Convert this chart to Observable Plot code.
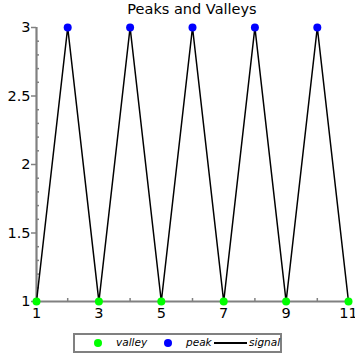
<!DOCTYPE html>
<html><head><meta charset="utf-8">
<script src="https://cdn.jsdelivr.net/npm/d3@7"></script>
<script src="https://cdn.jsdelivr.net/npm/@observablehq/plot@0.6"></script>
<style>
body{margin:0;background:#fff;font-family:"DejaVu Sans",sans-serif;}
#wrap{position:relative;width:355px;height:355px;overflow:hidden;}
#title{position:absolute;top:0px;left:36px;width:312px;text-align:center;font-size:14.5px;line-height:18px;color:#000;}
#chart{position:absolute;top:0;left:0;}
#chart svg text{font-size:14.5px;font-family:"DejaVu Sans";fill:#000;}
#legend{position:absolute;left:73px;top:333px;width:205px;height:16px;border:2px solid #808080;font-size:10.5px;font-style:italic;}
#legend span{position:absolute;top:1px;}
.dot{width:8px;height:8px;border-radius:50%;top:4px !important;}
</style></head>
<body><div id="wrap">
<div id="chart"></div>
<div id="title">Peaks and Valleys</div>
<div id="legend"></div>
</div>
<script>
const xValues = [1,2,3,4,5,6,7,8,9,10,11];
const signalValues = [1,3,1,3,1,3,1,3,1,3,1];
const peakX = [2,4,6,8,10];
const peakY = [3,3,3,3,3];
const valleyX = [1,3,5,7,9,11];
const valleyY = [1,1,1,1,1,1];
const yMajor = [1,1.5,2,2.5,3];
const yMinor = d3.range(10,31).map(d=>d/10).filter(v=>!yMajor.includes(v));
const xMajor = [1,3,5,7,9,11];
const xMinor = [2,4,6,8,10];
const legendItems = [
  {label:"valley", color:"#00ff00", kind:"dot"},
  {label:"peak", color:"#0000ff", kind:"dot"},
  {label:"signal", color:"#000000", kind:"line"}
];

const signal = xValues.map((x,i)=>({x, y: signalValues[i]}));
const peaks = peakX.map((x,i)=>({x, y: peakY[i]}));
const valleys = valleyX.map((x,i)=>({x, y: valleyY[i]}));

const chart = Plot.plot({
  width: 355, height: 330,
  marginTop: 27, marginBottom: 29, marginLeft: 36, marginRight: 7,
  style: {fontFamily: "DejaVu Sans", fontSize: "14.5px", color: "#000", background: "transparent", overflow: "visible"},
  x: {domain: [1, 11]},
  y: {domain: [1, 3]},
  marks: [
    Plot.axisY({ticks: yMajor, tickSize: 5, tickPadding: 1, stroke: "#808080", strokeWidth: 1.5, label: null, tickFormat: d=>String(d), fontSize: 14.5, fill: "#000"}),
    Plot.axisY({ticks: yMinor, tickSize: -3, text: null, stroke: "#808080", strokeWidth: 1.5, label: null}),
    Plot.axisX({ticks: xMajor, tickSize: 3, tickPadding: 3, stroke: "#808080", strokeWidth: 1.5, label: null, tickFormat: d=>String(d), fontSize: 14.5, fill: "#000"}),
    Plot.axisX({ticks: xMinor, tickSize: -3, text: null, stroke: "#808080", strokeWidth: 1.5, label: null}),
    Plot.ruleX([1], {stroke: "#808080", strokeWidth: 2.2}),
    Plot.ruleY([1], {stroke: "#808080", strokeWidth: 2.2}),
    Plot.line(signal, {x: "x", y: "y", stroke: "#000", strokeWidth: 1.5}),
    Plot.dot(valleys, {x: "x", y: "y", r: 4, fill: "#00ff00"}),
    Plot.dot(peaks, {x: "x", y: "y", r: 4, fill: "#0000ff"})
  ]
});
document.getElementById("chart").appendChild(chart);

const legend = document.getElementById("legend");
const pos = [{dot:19, text:41},{dot:89, text:111},{line:139, text:174}];
legendItems.forEach((it,i)=>{
  if (it.kind === "dot") {
    const d = document.createElement("span");
    d.className = "dot"; d.style.left = pos[i].dot + "px"; d.style.background = it.color;
    legend.appendChild(d);
  } else {
    const l = document.createElement("span");
    l.style.left = pos[i].line + "px"; l.style.top = "7px"; l.style.width = "33px"; l.style.height = "0";
    l.style.borderTop = "2px solid " + it.color;
    legend.appendChild(l);
  }
  const t = document.createElement("span");
  t.textContent = it.label; t.style.left = pos[i].text + "px";
  legend.appendChild(t);
});
</script>
</body></html>
